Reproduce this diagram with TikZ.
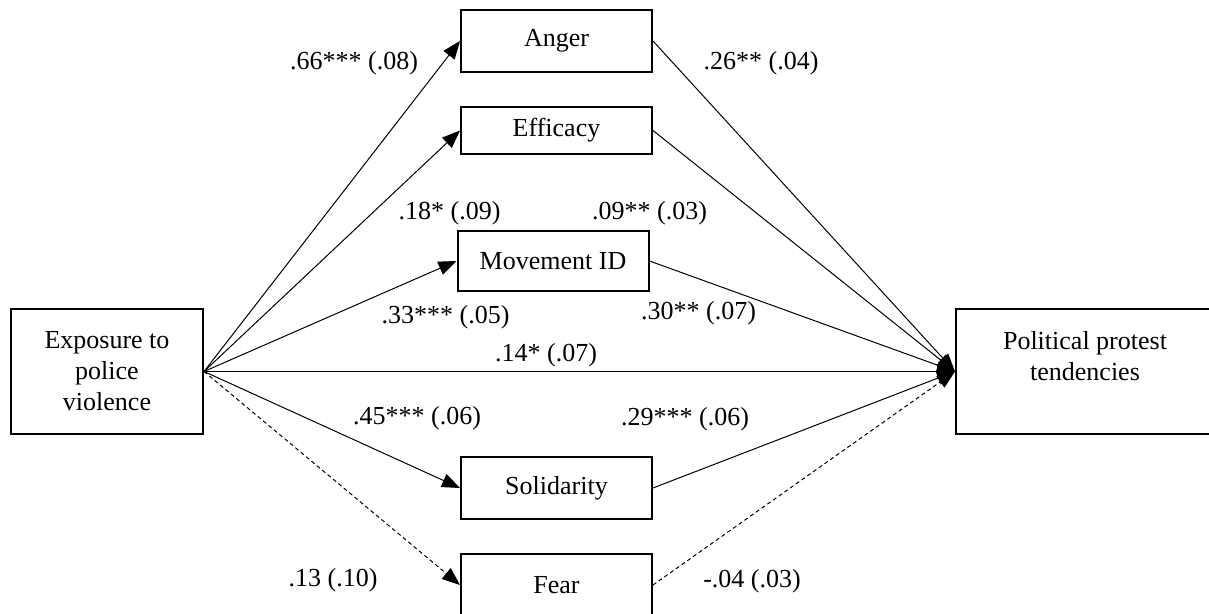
\documentclass[tikz,border=0pt]{standalone}
\usepackage{fontspec}
\setmainfont{Liberation Serif}
\usetikzlibrary{arrows.meta}

\begin{document}
\begin{tikzpicture}[
  x=0.5pt, y=-0.5pt,
  every node/.style={font=\fontsize{13}{15.5}\selectfont, align=center, inner sep=0pt},
  box/.style={draw, line width=1pt, minimum width=95.5pt, minimum height=31pt},
  arr/.style={-{Triangle[length=9pt, width=7pt]}, line width=0.5pt},
  dasharr/.style={arr, dash pattern=on 2pt off 1.5pt}
]
  \useasboundingbox (0, 0) rectangle (1209, 614);

  % boxes
  \node[box, minimum width=96pt, minimum height=62.5pt] (expo) at (107, 371.5) {Exposure to\\police\\violence};
  \node[box]                           (anger)  at (556.5, 41)    {Anger};
  \node[box, minimum height=23.5pt]    (effic)  at (556.5, 130.5) {Efficacy};
  \node[box, minimum height=30pt]      (moveid) at (553, 261)     {Movement ID};
  \node[box]                           (solid)  at (556.5, 488)   {Solidarity};
  \node[box]                           (fear)   at (556.5, 585)   {Fear};
  \node[box, minimum width=129pt, minimum height=62.5pt] (protest) at (1085, 371.5) {Political protest\\tendencies\\\mbox{}};

  % a paths
  \draw[arr]     (expo.east) -- (anger.west);
  \draw[arr]     (expo.east) -- (effic.west);
  \draw[arr]     (expo.east) -- (moveid.west);
  \draw[arr]     (expo.east) -- (solid.west);
  \draw[dasharr] (expo.east) -- (fear.west);
  \draw[arr]     (expo.east) -- (protest.west);

  % b paths
  \draw[arr]     (anger.east)  -- (protest.west);
  \draw[arr]     (effic.east)  -- (protest.west);
  \draw[arr]     (moveid.east) -- (protest.west);
  \draw[arr]     (solid.east)  -- (protest.west);
  \draw[dasharr] (fear.east)   -- (protest.west);

  % coefficients
  \node (c66) at (354, 63)    {.66*** (.08)};
  \node (c18) at (449.5, 213) {.18* (.09)};
  \node (c33) at (445.5, 317) {.33*** (.05)};
  \node (c14) at (546, 355)   {.14* (.07)};
  \node (c45) at (417, 418)   {.45*** (.06)};
  \node (c13) at (333, 580)   {.13 (.10)};
  \node (c26) at (761, 63)    {.26** (.04)};
  \node (c09) at (649.5, 213) {.09** (.03)};
  \node (c30) at (698.5, 313) {.30** (.07)};
  \node (c29) at (685, 419)   {.29*** (.06)};
  \node (c04) at (752, 581)   {-.04 (.03)};
\end{tikzpicture}
\end{document}
